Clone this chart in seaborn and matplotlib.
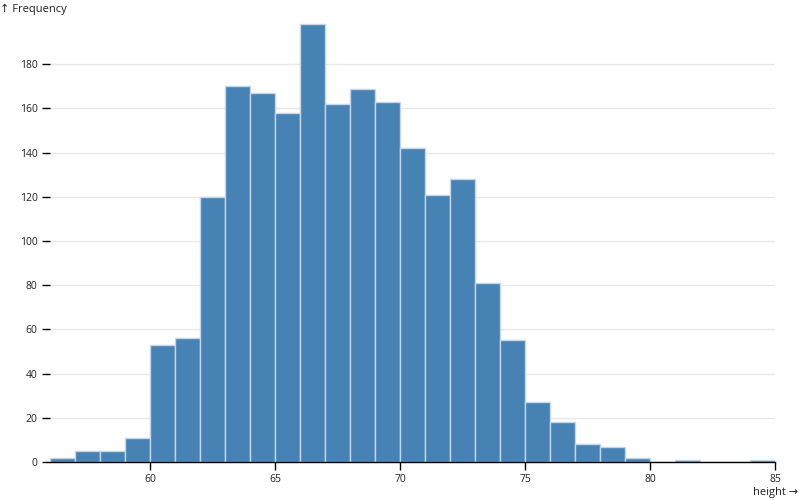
import numpy as np
import pandas as pd
import matplotlib
matplotlib.use('Agg')
import matplotlib.pyplot as plt
import seaborn as sns

# Histogram bins (width 1, from 56 to 85) and their counts
bin_left = list(range(56, 85))
counts = [2, 5, 5, 11, 53, 56, 120, 170, 167, 158, 198, 162, 169, 163, 142,
          121, 128, 81, 55, 27, 18, 8, 7, 2, 0, 1, 0, 0, 1]
bin_edges = list(range(56, 86))
x_ticks = [60, 65, 70, 75, 80, 85]
y_ticks = [0, 20, 40, 60, 80, 100, 120, 140, 160, 180]

df = pd.DataFrame({'height': bin_left, 'count': counts})

sns.set_theme(style='white')
plt.rcParams['font.family'] = ['Open Sans', 'DejaVu Sans']

fig = plt.figure(figsize=(8, 5), dpi=100)
ax = fig.add_axes([50 / 800, 38 / 500, 725 / 800, 442 / 500])

sns.histplot(data=df, x='height', weights='count', bins=bin_edges,
             color='#4682b4', alpha=1, edgecolor='#c4d6e8', linewidth=1,
             ax=ax)

ax.set_xlim(56, 85)
ax.set_ylim(0, 200)
ax.set_xticks(x_ticks)
ax.set_yticks(y_ticks)
ax.yaxis.grid(True, color='#e8e8e8', linewidth=1)
ax.set_axisbelow(True)

for s in ['top', 'right', 'left']:
    ax.spines[s].set_visible(False)
ax.spines['bottom'].set_color('black')
ax.spines['bottom'].set_linewidth(1)
ax.spines['bottom'].set_zorder(5)

ax.tick_params(axis='x', direction='out', length=6, width=1, color='black',
               labelsize=7.5, labelcolor='#222222', pad=3, bottom=True)
ax.tick_params(axis='y', direction='out', length=6, width=1, color='black',
               labelsize=7.5, labelcolor='#222222', pad=3, left=True)

ax.set_xlabel('')
ax.set_ylabel('')
fig.text(0 / 800, 1 - 9 / 500, '↑ Frequency', fontsize=8, ha='left', va='center',
         color='#222222')
fig.text(798 / 800, 1 - 492 / 500, 'height →', fontsize=8, ha='right', va='center',
         color='#222222')

fig.savefig('out.png', dpi=100)
